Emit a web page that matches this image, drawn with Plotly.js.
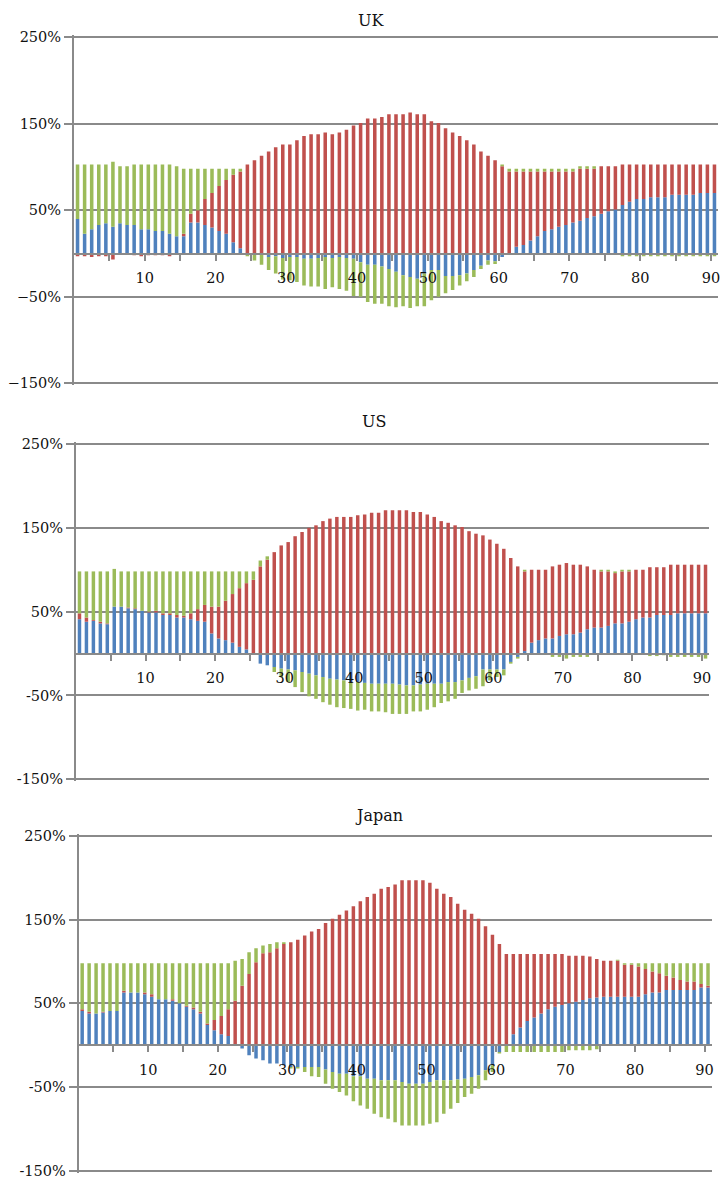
<!DOCTYPE html>
<html>
<head>
<meta charset="utf-8">
<script src="https://cdn.plot.ly/plotly-3.0.1.min.js"></script>
<style>
  html, body { margin: 0; padding: 0; background: #ffffff; }
  #chart { width: 721px; height: 1182px; }
</style>
</head>
<body>
<div id="chart"></div>
<script>
// Ages (categories) 1..91
const ages = [];
for (let a = 1; a <= 91; a++) ages.push(a);

// Tick labels
const xTickVals = [5.5,10.5,15.5,20.5,25.5,30.5,35.5,40.5,45.5,50.5,55.5,60.5,65.5,70.5,75.5,80.5,85.5,90.5];
const xTickText = ['','10','','20','','30','','40','','50','','60','','70','','80','','90'];
const yTickVals = [-150,-50,50,150,250];
const yTickTextUK = ['\u2212150%','\u221250%','50%','150%','250%'];
const yTickTextOther = ['-150%','-50%','50%','150%','250%'];

// UK (%)
const ukBlue = [40,23,28,33,35,31,35,33,33,28, 28,26,26,23,20,20,36,36,33,30,
  26,23,13,6,0,0,-1,-4,-3,-5, -4,-4,-6,-6,-5,-4,-5,-4,-5,-6,
  -10,-13,-13,-15,-18,-21,-25,-27,-29,-23, -19,-19,-26,-26,-25,-23,-19,-14,-8,-9,
  -4,0,8,10,15,20,26,28,31,33, 36,38,41,43,46,49,51,56,60,63,
  63,65,65,65,68,68,68,68,70,70,70];
const ukRed = [-3,-3,-4,-3,-3,-7,0,0,-2,-3, -2,-2,-2,-3,0,3,10,14,30,40,
  52,62,78,89,103,108,113,118,123,126, 126,131,136,138,138,140,138,140,143,148,
  151,156,156,158,161,161,161,163,161,161, 153,151,145,140,136,131,126,118,113,108,
  101,95,87,85,80,75,69,67,64,62, 59,60,57,55,55,52,50,47,43,40,
  40,38,38,38,35,35,35,35,33,33,33];
const ukGreen = [63,80,75,70,68,75,66,68,70,75, 75,77,77,80,81,75,52,48,35,28,
  20,13,7,3,-3,-8,-12,-15,-20,-25, -27,-29,-31,-32,-33,-37,-34,-37,-38,-43,
  -40,-43,-45,-43,-43,-41,-36,-36,-32,-38, -35,-31,-20,-16,-12,-9,-8,-4,-5,-3,
  2,3,3,3,3,3,3,3,3,3, 3,3,3,3,0,0,0,-3,-3,-3,
  -3,-3,-3,-3,-3,-3,-3,-3,-3,-3,-3];

// US (%)
const usBlue = [41,38,39,36,35,56,56,54,53,51, 49,49,46,46,43,43,41,39,38,24,
  18,16,13,8,5,0,-12,-14,-16,-18, -19,-20,-22,-24,-26,-28,-30,-31,-32,-34,
  -34,-35,-36,-36,-36,-36,-37,-38,-38,-37, -36,-36,-36,-34,-34,-32,-29,-27,-19,-19,
  -19,-19,-10,-4,3,13,16,18,18,21, 23,23,25,29,31,31,33,36,36,38,
  41,43,43,46,46,46,48,48,48,48,48];
const usRed = [7,5,1,2,1,0,0,1,1,0, 1,2,2,2,3,2,7,14,20,32,
  38,47,58,70,79,88,104,112,121,129, 133,140,145,150,153,158,161,163,163,163,
  165,166,168,168,171,171,171,171,169,169, 166,163,158,156,153,151,146,143,141,136,
  131,125,114,104,95,87,84,82,86,85, 85,83,81,75,69,67,65,60,62,60,
  59,57,60,57,57,60,58,58,58,58,58];
const usGreen = [50,55,58,60,62,45,42,43,44,47, 48,47,50,50,52,53,50,45,40,42,
  42,35,27,20,14,10,7,4,-6,-10, -15,-20,-24,-27,-28,-30,-31,-33,-33,-32,
  -34,-32,-33,-33,-34,-36,-35,-34,-31,-32, -31,-28,-23,-23,-20,-15,-15,-15,-20,-13,
  -9,-7,-2,-2,2,0,0,0,-4,-4, -6,-4,-4,-4,0,2,2,2,2,2,
  0,0,-3,-3,-2,-4,-4,-4,-4,-4,-6];

// Japan (%)
const jpBlue = [41,38,38,39,41,41,63,63,63,61, 58,55,55,53,50,46,43,38,24,18,
  13,11,0,-4,-12,-16,-18,-22,-22,-24, -26,-26,-26,-26,-26,-29,-32,-34,-34,-37,
  -37,-40,-40,-42,-42,-42,-44,-46,-46,-46, -44,-42,-42,-42,-41,-40,-38,-36,-30,-24,
  -8,0,13,21,29,33,38,43,46,48, 50,52,54,56,57,58,58,58,58,58,
  58,61,63,63,66,66,66,66,66,69,69];
const jpRed = [2,2,0,1,0,0,2,0,0,2, 3,0,0,2,0,1,2,2,2,12,
  22,32,53,71,85,99,110,111,116,121, 123,126,131,136,139,146,151,156,161,166,
  172,177,181,187,189,192,197,197,197,197, 194,187,181,177,169,162,157,151,142,132,
  121,109,96,88,80,76,71,66,63,61, 57,55,53,50,46,43,43,43,38,38,
  36,30,25,23,17,15,12,10,10,4,2];
const jpGreen = [55,58,60,58,57,57,33,35,35,35, 37,43,43,43,48,51,53,58,72,68,
  63,55,48,32,26,17,9,10,7,2, -2,-2,-6,-11,-12,-17,-20,-22,-26,-30,
  -35,-36,-42,-44,-46,-50,-52,-50,-50,-50, -50,-50,-40,-34,-28,-22,-20,-16,-12,-8,
  -2,-8,-8,-8,-8,-8,-8,-8,-8,-8, -6,-6,-6,-6,-5,0,0,1,2,2,
  4,7,10,12,15,17,20,22,22,25,27];

const titles = ['UK', 'US', 'Japan'];

const BLUE = '#4f81bd', RED = '#c0504d', GREEN = '#9bbb59';
const GRID = '#8a8a8a';
const FONT = 'DejaVu Serif, Liberation Serif, serif';

const W = 721, H = 1182;
const PADU = 2.5; // small range padding so the edge gridlines are drawn
const YMIN = -150 - PADU, YMAX = 250 + PADU;
// pixel geometry of each panel: left, right, y of 250% line, y of -150% line
const panels = [
  {l: 74, r: 718, t: 37.3, b: 383.3, tx: 371, ty: 20, yt: yTickTextUK, data: [ukBlue, ukRed, ukGreen]},
  {l: 76, r: 709, t: 444, b: 779.3, tx: 374, ty: 422, yt: yTickTextOther, data: [usBlue, usRed, usGreen]},
  {l: 78.7, r: 711.5, t: 836, b: 1170.7, tx: 379, ty: 815, yt: yTickTextOther, data: [jpBlue, jpRed, jpGreen]}
];

const traces = [];
const layout = {
  width: W, height: H,
  margin: {l: 0, r: 0, t: 0, b: 0, pad: 0},
  paper_bgcolor: '#ffffff', plot_bgcolor: '#ffffff',
  barmode: 'relative', bargap: 0.5,
  showlegend: false,
  annotations: []
};

panels.forEach((p, i) => {
  const s = i === 0 ? '' : String(i + 1);
  const ppu = (p.b - p.t) / 400;
  const topPx = p.t - PADU * ppu, botPx = p.b + PADU * ppu;
  const xd = [p.l / W, p.r / W];
  const yd = [(H - botPx) / H, (H - topPx) / H];
  const colors = [BLUE, RED, GREEN];
  const names = ['blue', 'red', 'green'];
  p.data.forEach((vals, j) => {
    traces.push({
      type: 'bar', x: ages, y: vals, name: names[j],
      marker: {color: colors[j], line: {width: 0}},
      xaxis: 'x' + s, yaxis: 'y' + s, hoverinfo: 'x+y'
    });
  });
  layout['xaxis' + s] = {
    domain: xd, anchor: 'free',
    position: yd[0] + ((0 - YMIN) / (YMAX - YMIN)) * (yd[1] - yd[0]),
    range: [0.5, 91.5],
    tickmode: 'array', tickvals: xTickVals, ticktext: xTickText,
    ticks: 'outside', ticklen: 6, tickwidth: 2, tickcolor: GRID,
    ticklabelstandoff: 5,
    showline: true, linecolor: GRID, linewidth: 2,
    showgrid: false, zeroline: false,
    tickfont: {family: FONT, size: 14.5, color: '#111'},
    fixedrange: true
  };
  layout['yaxis' + s] = {
    domain: yd, anchor: 'x' + s,
    range: [YMIN, YMAX],
    tickmode: 'array', tickvals: yTickVals, ticktext: p.yt,
    ticks: 'outside', ticklen: 8, tickwidth: 2, tickcolor: GRID,
    showgrid: true, gridcolor: GRID, gridwidth: 2,
    showline: true, linecolor: GRID, linewidth: 2,
    zeroline: false,
    tickfont: {family: FONT, size: 14.5, color: '#111'},
    fixedrange: true
  };
  layout.annotations.push({
    text: titles[i], xref: 'paper', yref: 'paper',
    x: p.tx / W, y: 1 - p.ty / H, xanchor: 'center', yanchor: 'middle',
    showarrow: false, font: {family: FONT, size: 16, color: '#111'}
  });
});

Plotly.newPlot('chart', traces, layout, {staticPlot: true, displayModeBar: false});
</script>
</body>
</html>
